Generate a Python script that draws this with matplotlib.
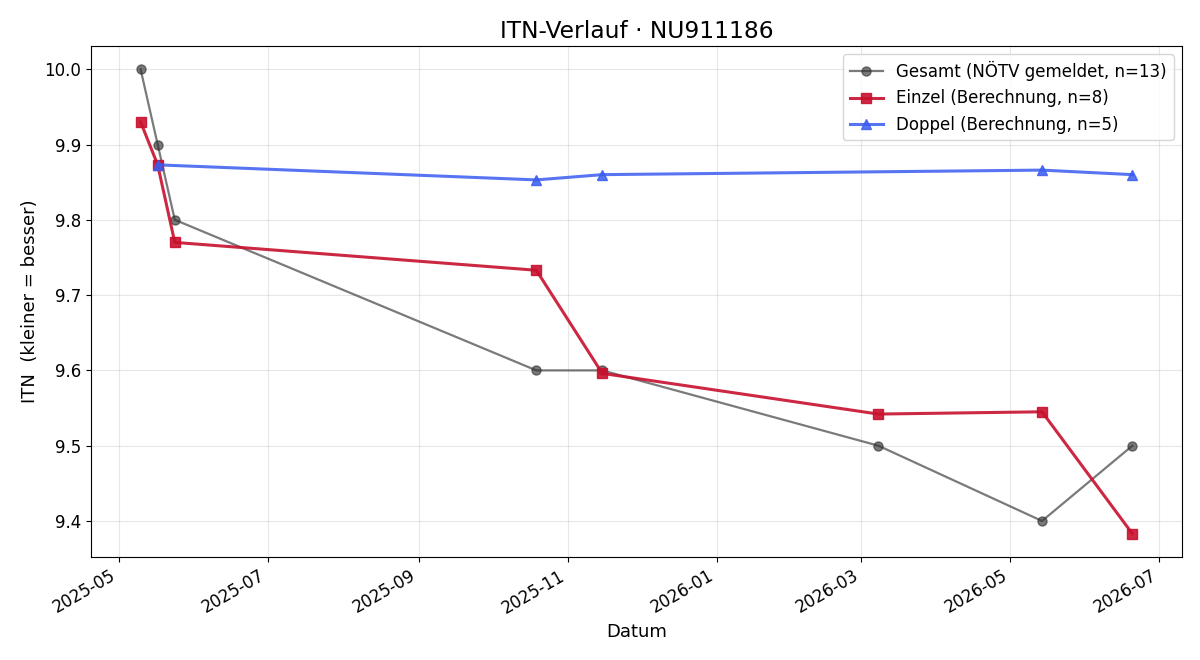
import matplotlib
matplotlib.use("Agg")
import matplotlib.pyplot as plt
import matplotlib.dates as mdates
import pandas as pd

gesamt_dates = ["2025-05-10", "2025-05-17", "2025-05-24", "2025-10-19", "2025-11-15",
                "2026-03-08", "2026-05-14", "2026-06-20"]
gesamt_vals = [10.0, 9.9, 9.8, 9.6, 9.6, 9.5, 9.4, 9.5]

einzel_dates = ["2025-05-10", "2025-05-17", "2025-05-24", "2025-10-19", "2025-11-15",
                "2026-03-08", "2026-05-14", "2026-06-20"]
einzel_vals = [9.930, 9.873, 9.770, 9.733, 9.596, 9.542, 9.545, 9.383]

doppel_dates = ["2025-05-17", "2025-10-19", "2025-11-15", "2026-05-14", "2026-06-20"]
doppel_vals = [9.873, 9.853, 9.860, 9.866, 9.860]

fig, ax = plt.subplots(figsize=(12, 6.6), dpi=100)
ax.plot(pd.to_datetime(gesamt_dates), gesamt_vals, marker="o", color="#333333", alpha=0.65,
        lw=1.6, ms=6.5, label="Gesamt (NÖTV gemeldet, n=13)")
ax.plot(pd.to_datetime(einzel_dates), einzel_vals, marker="s", color="#C8102E", alpha=0.9,
        lw=2.2, ms=7, label="Einzel (Berechnung, n=8)")
ax.plot(pd.to_datetime(doppel_dates), doppel_vals, marker="^", color="#3A5CF0", alpha=0.85,
        lw=2.2, ms=7, label="Doppel (Berechnung, n=5)")

ax.set_title("ITN-Verlauf · NU911186", fontsize=16.8)
ax.set_xlabel("Datum", fontsize=13)
ax.set_ylabel("ITN  (kleiner = besser)", fontsize=13)
ax.grid(True, alpha=0.3)
ax.xaxis.set_major_locator(mdates.MonthLocator(interval=2))
ax.xaxis.set_major_formatter(mdates.DateFormatter("%Y-%m"))
ax.tick_params(labelsize=12)
ax.legend(loc="upper right", fontsize=12)
fig.autofmt_xdate()
fig.subplots_adjust(left=91 / 1200, right=1182 / 1200, top=1 - 46 / 660, bottom=1 - 557 / 660)
fig.savefig("out.png")
